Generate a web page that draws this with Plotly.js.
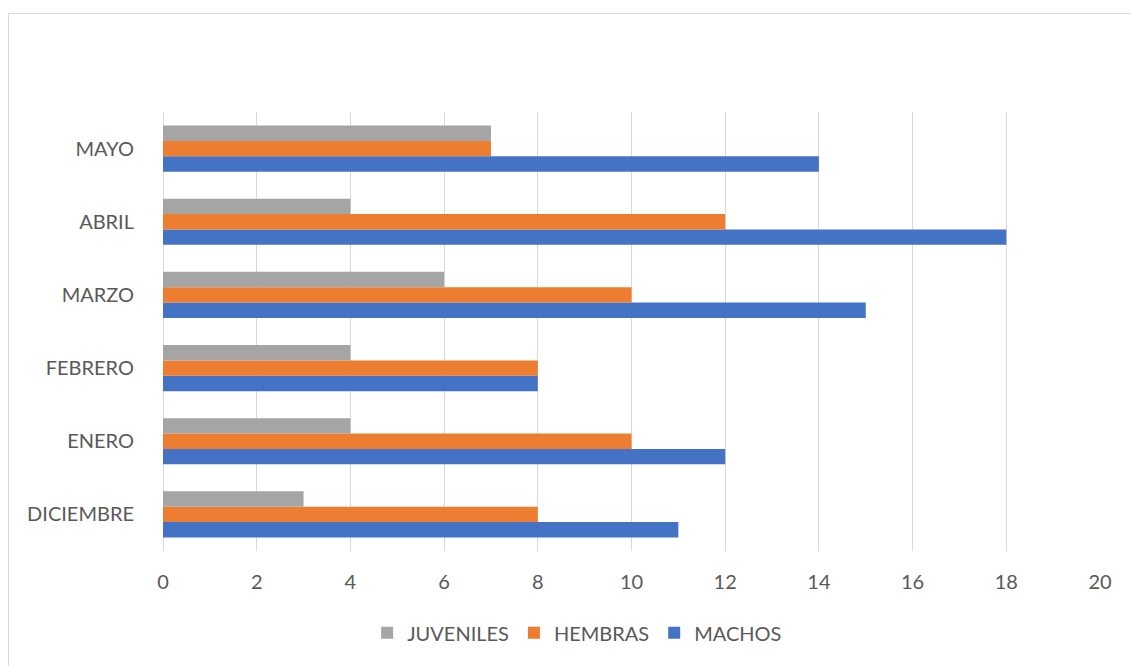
<!DOCTYPE html>
<html>
<head>
<meta charset="utf-8">
<script src="https://cdn.plot.ly/plotly-3.0.1.min.js"></script>
<style>
  html, body { margin: 0; padding: 0; overflow: hidden; background: #fff; }
  #wrap { position: relative; width: 1131px; height: 666px; overflow: hidden; }
  #chart { position: absolute; left: 0; top: 0; width: 1131px; height: 666px; }
  #frame { position: absolute; left: 8px; top: 13px; width: 1200px; height: 800px;
           border: 1px solid #d9d9d9; box-sizing: border-box; pointer-events: none; }
</style>
</head>
<body>
<div id="wrap">
  <div id="chart"></div>
  <div id="frame"></div>
</div>
<script>
const categories = ["DICIEMBRE", "ENERO", "FEBRERO", "MARZO", "ABRIL", "MAYO"];
const machos    = [11, 12, 8, 15, 18, 14];
const hembras   = [8, 10, 8, 10, 12, 7];
const juveniles = [3, 4, 4, 6, 4, 7];
const xTicks = [0, 2, 4, 6, 8, 10, 12, 14, 16, 18, 20];

const font = "Lato, 'Open Sans', sans-serif";
const txt = "#595959";

const traces = [
  { name: "MACHOS", y: categories, x: machos, type: "bar", orientation: "h",
    marker: { color: "#4472C4" } },
  { name: "HEMBRAS", y: categories, x: hembras, type: "bar", orientation: "h",
    marker: { color: "#ED7D31" } },
  { name: "JUVENILES", y: categories, x: juveniles, type: "bar", orientation: "h",
    marker: { color: "#A5A5A5" } }
];

const layout = {
  width: 1131, height: 666,
  margin: { l: 163, r: 31, t: 112, b: 115, pad: 0, autoexpand: false },
  paper_bgcolor: "rgba(0,0,0,0)",
  plot_bgcolor: "rgba(0,0,0,0)",
  font: { family: font, size: 20, color: txt },
  barmode: "group",
  bargap: 0.37,
  bargroupgap: 0,
  xaxis: {
    range: [0, 20],
    tickvals: xTicks,
    ticktext: xTicks.map(String),
    showgrid: true, gridcolor: "#d9d9d9", gridwidth: 1,
    zeroline: true, zerolinecolor: "#d9d9d9", zerolinewidth: 1,
    showline: false, ticks: "", ticklabelstandoff: 17,
    tickfont: { family: font, size: 20, color: txt },
    automargin: false,
    fixedrange: true
  },
  yaxis: {
    type: "category",
    categoryorder: "array", categoryarray: categories,
    showgrid: false, zeroline: false, showline: false,
    ticks: "", ticklabelstandoff: 28,
    tickfont: { family: font, size: 20, color: txt },
    automargin: false,
    fixedrange: true
  },
  showlegend: true,
  legend: {
    orientation: "h", traceorder: "reversed",
    x: 0.442, xanchor: "center",
    yref: "container", y: 0.05, yanchor: "middle",
    font: { family: font, size: 20, color: txt },
    itemwidth: 30, bgcolor: "rgba(0,0,0,0)"
  }
};

Plotly.newPlot("chart", traces, layout, { displayModeBar: false, staticPlot: true });
</script>
</body>
</html>
